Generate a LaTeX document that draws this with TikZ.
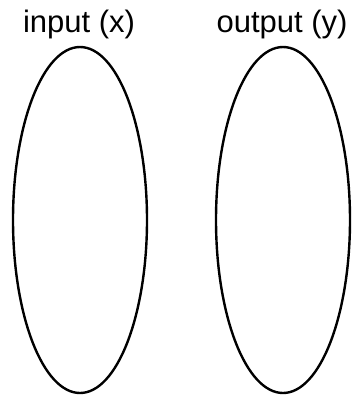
\documentclass[tikz,border=0pt]{standalone}
\usepackage{fontspec}
\setmainfont{Liberation Sans}
\usetikzlibrary{shapes.geometric}

\begin{document}
\begin{tikzpicture}[x=1pt,y=-1pt,
    blob/.style={draw,ellipse,line width=2.4pt,minimum width=134pt,%
                 minimum height=346pt,inner sep=0pt,outer sep=0pt},
    caption/.style={font=\fontsize{31}{36}\selectfont,inner sep=0pt,anchor=base}
]
\useasboundingbox (0,0) rectangle (358,396);

\node[blob] (inset) at (80,220) {};
\node[blob] (outset) at (283,220) {};

\node[caption] (inlabel) at (79,33) {input (x)};
\node[caption] (outlabel) at (282,33) {output (y)};

\end{tikzpicture}
\end{document}
